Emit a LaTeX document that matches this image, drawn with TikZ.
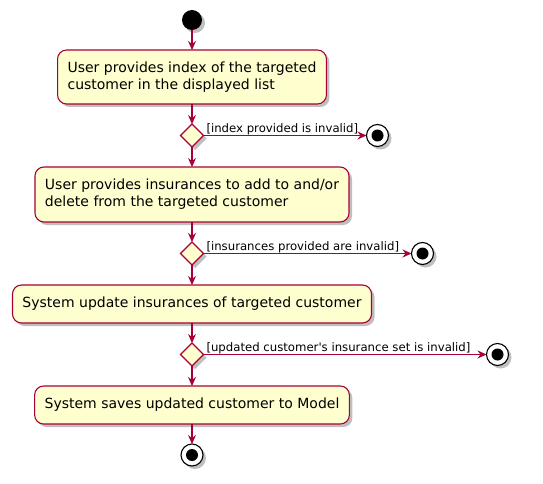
\documentclass[tikz,border=0pt]{standalone}
\usepackage{fontspec}
\setmainfont{DejaVu Sans}
\usetikzlibrary{positioning,shapes.geometric,arrows.meta,shadows}
\definecolor{umlred}{HTML}{A80036}
\definecolor{umlfill}{HTML}{FEFECE}

\begin{document}
\begin{tikzpicture}[x=1pt, y=1pt, node distance=20pt,
    every node/.style={font=\fontsize{14}{17}\selectfont, outer sep=0pt},
    >={Stealth[length=9pt, width=8pt, inset=3pt]},
    shade/.style={drop shadow={shadow xshift=3pt, shadow yshift=-3pt, fill=black!50, opacity=0.5}},
    activity/.style={draw=umlred, fill=umlfill, line width=1.1pt, rounded corners=9pt, align=left, inner xsep=10pt, shade},
    choice/.style={diamond, draw=umlred, fill=umlfill, line width=1.1pt, minimum size=23pt, inner sep=0pt, shade},
    startdot/.style={circle, fill=black, minimum size=20pt, inner sep=0pt, shade},
    enddot/.style={circle, draw=black, fill=white, line width=1.1pt, minimum size=22pt, inner sep=0pt, shade,
      path picture={\fill[black] (path picture bounding box.center) circle (6pt);}},
    guard/.style={font=\fontsize{11.7}{13}\selectfont, anchor=south west, inner sep=1pt, xshift=2pt},
    flow/.style={->, draw=umlred, line width=1.1pt}]
    \useasboundingbox (0,0) rectangle (543,-484);
    % Nodes
    \node (start) [startdot] at (192,-20) {};
    \node (pickidx) [activity, below=of start, minimum height=54pt] {User provides index of the targeted\\customer in the displayed list};
    \node (idxok) [choice, below=of pickidx] {};
    \node (stopidx) [enddot, right=163pt of idxok] {};
    \node (pickins) [activity, below=of idxok, minimum height=55pt] {User provides insurances to add to and/or\\delete from the targeted customer};
    \node (insok) [choice, below=of pickins] {};
    \node (stopins) [enddot, right=208pt of insok] {};
    \node (update) [activity, below=of insok, minimum height=38pt] {System update insurances of targeted customer};
    \node (setok) [choice, below=of update] {};
    \node (stopset) [enddot, right=283pt of setok] {};
    \node (save) [activity, below=of setok, minimum height=38pt] {System saves updated customer to Model};
    \node (stop) [enddot, below=of save] {};
    % Guards
    \node (idxlbl) [guard] at (idxok.east) {[index provided is invalid]};
    \node (inslbl) [guard] at (insok.east) {[insurances provided are invalid]};
    \node (setlbl) [guard] at (setok.east) {[updated customer\textquotesingle s insurance set is invalid]};
    % Arrows
    \draw[flow] (start) -- (pickidx);
    \draw[flow] (pickidx) -- (idxok);
    \draw[flow] (idxok) -- (stopidx);
    \draw[flow] (idxok) -- (pickins);
    \draw[flow] (pickins) -- (insok);
    \draw[flow] (insok) -- (stopins);
    \draw[flow] (insok) -- (update);
    \draw[flow] (update) -- (setok);
    \draw[flow] (setok) -- (stopset);
    \draw[flow] (setok) -- (save);
    \draw[flow] (save) -- (stop);
\end{tikzpicture}
\end{document}
